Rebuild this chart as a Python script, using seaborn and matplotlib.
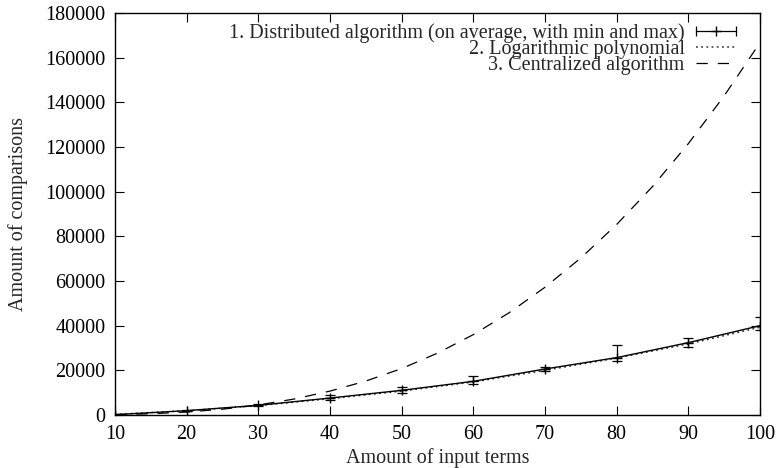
import matplotlib
matplotlib.use("Agg")
import matplotlib.pyplot as plt
from matplotlib.lines import Line2D
from matplotlib.legend_handler import HandlerLine2D, HandlerTuple
import seaborn as sns
import pandas as pd

# ---- data ----
terms = [10, 20, 30, 40, 50, 60, 70, 80, 90, 100]
dist_avg = [150, 1950, 4330, 7600, 11050, 15080, 20600, 25700, 32400, 40000]
dist_min = [100, 1700, 4000, 6700, 9700, 13900, 19500, 24200, 30600, 38000]
dist_max = [250, 2300, 4800, 9000, 12700, 17460, 21700, 31200, 34300, 44000]
logpoly = [300, 1900, 4200, 7300, 10700, 14800, 20000, 25500, 31800, 39300]

central_x = [10, 15, 20, 25, 30, 35, 40, 45, 50, 55, 60, 65, 70, 75, 80, 85, 90, 95, 100]
central_y = [170, 560, 1330, 2600, 4500, 7150, 10700, 15200, 20800, 27700, 36000,
             45800, 57200, 70300, 85300, 102300, 121500, 142900, 166700]

labels = ["1. Distributed algorithm (on average, with min and max)",
          "2. Logarithmic polynomial",
          "3. Centralized algorithm"]
x_label = "Amount of input terms"
y_label = "Amount of comparisons"

FS = 14.5

sns.set_theme(style="ticks")
plt.rcParams["font.family"] = ["Liberation Serif", "DejaVu Serif"]
plt.rcParams["font.size"] = FS

fig = plt.figure(figsize=(7.79, 4.68), dpi=100)
ax = fig.add_axes([115 / 779, 1 - 415 / 468, (760 - 115) / 779, (415 - 13) / 468])

df_d = pd.DataFrame({"x": terms, "y": dist_avg})
df_l = pd.DataFrame({"x": terms, "y": logpoly})
df_c = pd.DataFrame({"x": central_x, "y": central_y})

DOT = (0, (1.2, 2.2))
DASH = (0, (9, 8))

sns.lineplot(data=df_l, x="x", y="y", ax=ax, color="#333333", lw=1.1, linestyle=DOT)
sns.lineplot(data=df_c, x="x", y="y", ax=ax, color="black", lw=0.9, linestyle=DASH)
sns.lineplot(data=df_d, x="x", y="y", ax=ax, color="black", lw=1.0)

yerr = [[a - m for a, m in zip(dist_avg, dist_min)],
        [M - a for a, M in zip(dist_avg, dist_max)]]
ax.errorbar(terms, dist_avg, yerr=yerr, fmt="none", ecolor="black",
            elinewidth=0.9, capsize=3.6, capthick=0.9)
ax.plot(terms, dist_avg, ls="none", marker="+", ms=7, mew=1.0, color="black")

ax.set_xlim(10, 100)
ax.set_ylim(0, 180000)
ax.set_xticks(terms)
ax.set_yticks(range(0, 180001, 20000))
ax.tick_params(direction="in", length=6.5, width=0.8, top=True, right=True,
               labelsize=FS, colors="black")
ax.tick_params(axis="x", pad=7)
ax.tick_params(axis="y", pad=7)
for s in ax.spines.values():
    s.set_visible(True)
    s.set_linewidth(1.0)
    s.set_color("black")
ax.set_xlabel(x_label, fontsize=FS, labelpad=3)
ax.set_ylabel(y_label, fontsize=FS, labelpad=12)

# legend in gnuplot style
h_bar = Line2D([], [], color="black", lw=0.9, marker="|", ms=7, mew=0.9)
h_plus = Line2D([], [], color="black", ls="none", marker="+", ms=7, mew=1.0)
h1 = (h_bar, h_plus)
h2 = Line2D([], [], color="#333333", lw=1.1, linestyle=DOT)
h3 = Line2D([], [], color="black", lw=0.9, linestyle=DASH)
ax.legend([h1, h2, h3], labels, loc="upper right",
          bbox_to_anchor=((742 - 115) / 645, (415 - 23) / 402),
          frameon=False, markerfirst=False, numpoints=2,
          handlelength=2.6, handletextpad=0.25, labelspacing=-0.15,
          borderpad=0, borderaxespad=0, fontsize=FS,
          handler_map={h_plus: HandlerLine2D(numpoints=1),
                       tuple: HandlerTuple(ndivide=1, pad=0)})

fig.savefig("out.png", dpi=100)
